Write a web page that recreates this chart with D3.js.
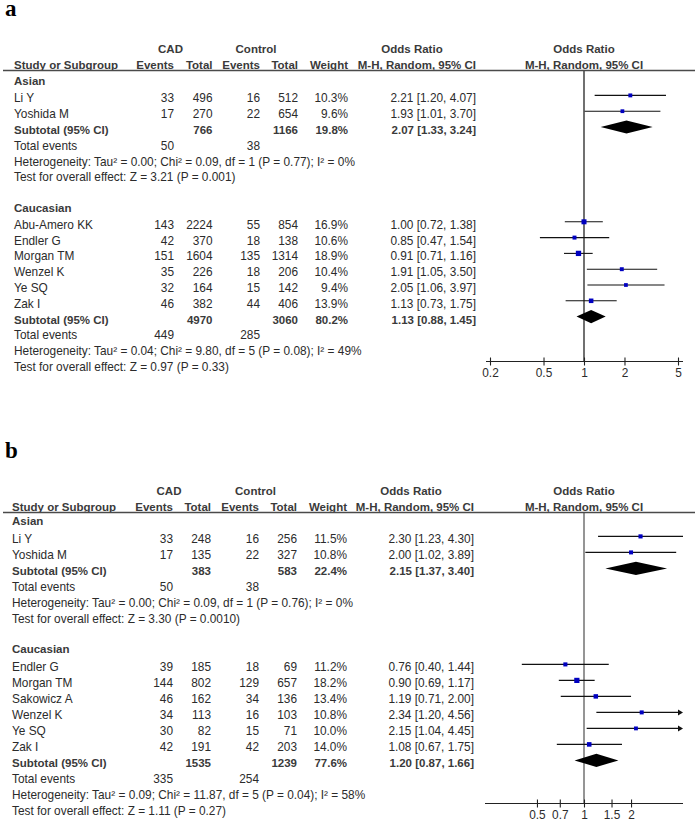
<!DOCTYPE html>
<html><head><meta charset="utf-8">
<script src="https://cdn.jsdelivr.net/npm/d3@7"></script>
<style>body{margin:0;background:#fff}svg{display:block}</style>
</head><body>
<svg id="chart" width="698" height="823"></svg>
<script>
// ---------- DATA: panel a ----------
const aStudies    = ["Li Y","Yoshida M","Abu-Amero KK","Endler G","Morgan TM","Wenzel K","Ye SQ","Zak I"];
const aGroup      = ["Asian","Asian","Caucasian","Caucasian","Caucasian","Caucasian","Caucasian","Caucasian"];
const aCadEvents  = [33,17,143,42,151,35,32,46];
const aCadTotal   = [496,270,2224,370,1604,226,164,382];
const aCtrlEvents = [16,22,55,18,135,18,15,44];
const aCtrlTotal  = [512,654,854,138,1314,206,142,406];
const aWeight     = [10.3,9.6,16.9,10.6,18.9,10.4,9.4,13.9];
const aOR         = [2.21,1.93,1.00,0.85,0.91,1.91,2.05,1.13];
const aLo         = [1.20,1.01,0.72,0.47,0.71,1.05,1.06,0.73];
const aHi         = [4.07,3.70,1.38,1.54,1.16,3.50,3.97,1.75];
const aSubgroups      = ["Asian","Caucasian"];
const aSubCadTotal    = [766,4970];
const aSubCtrlTotal   = [1166,3060];
const aSubWeight      = [19.8,80.2];
const aSubOR          = [2.07,1.13];
const aSubLo          = [1.33,0.88];
const aSubHi          = [3.24,1.45];
const aSubCadEvents   = [50,449];
const aSubCtrlEvents  = [38,285];
const aHet  = ["Heterogeneity: Tau\u00B2 = 0.00; Chi\u00B2 = 0.09, df = 1 (P = 0.77); I\u00B2 = 0%",
               "Heterogeneity: Tau\u00B2 = 0.04; Chi\u00B2 = 9.80, df = 5 (P = 0.08); I\u00B2 = 49%"];
const aTest = ["Test for overall effect: Z = 3.21 (P = 0.001)",
               "Test for overall effect: Z = 0.97 (P = 0.33)"];
const aTicks = [0.2,0.5,1,2,5];

// ---------- DATA: panel b ----------
const bStudies    = ["Li Y","Yoshida M","Endler G","Morgan TM","Sakowicz A","Wenzel K","Ye SQ","Zak I"];
const bGroup      = ["Asian","Asian","Caucasian","Caucasian","Caucasian","Caucasian","Caucasian","Caucasian"];
const bCadEvents  = [33,17,39,144,46,34,30,42];
const bCadTotal   = [248,135,185,802,162,113,82,191];
const bCtrlEvents = [16,22,18,129,34,16,15,42];
const bCtrlTotal  = [256,327,69,657,136,103,71,203];
const bWeight     = [11.5,10.8,11.2,18.2,13.4,10.8,10.0,14.0];
const bOR         = [2.30,2.00,0.76,0.90,1.19,2.34,2.15,1.08];
const bLo         = [1.23,1.02,0.40,0.69,0.71,1.20,1.04,0.67];
const bHi         = [4.30,3.89,1.44,1.17,2.00,4.56,4.45,1.75];
const bSubgroups      = ["Asian","Caucasian"];
const bSubCadTotal    = [383,1535];
const bSubCtrlTotal   = [583,1239];
const bSubWeight      = [22.4,77.6];
const bSubOR          = [2.15,1.20];
const bSubLo          = [1.37,0.87];
const bSubHi          = [3.40,1.66];
const bSubCadEvents   = [50,335];
const bSubCtrlEvents  = [38,254];
const bHet  = ["Heterogeneity: Tau\u00B2 = 0.00; Chi\u00B2 = 0.09, df = 1 (P = 0.76); I\u00B2 = 0%",
               "Heterogeneity: Tau\u00B2 = 0.09; Chi\u00B2 = 11.87, df = 5 (P = 0.04); I\u00B2 = 58%"];
const bTest = ["Test for overall effect: Z = 3.30 (P = 0.0010)",
               "Test for overall effect: Z = 1.11 (P = 0.27)"];
const bTicks = [0.5,0.7,1,1.5,2];

// ---------- DRAWING ----------
const svg = d3.select("#chart");
const FONT = "'Liberation Sans', Arial, sans-serif";
const TXT = "#2b2b2b", BOLD = "#3a3a3a", BLUE = "#0000c0";

function fmt2(v){ return v.toFixed(2); }
function ciText(o,l,h){ return fmt2(o)+" ["+fmt2(l)+", "+fmt2(h)+"]"; }

function drawPanel(cfg, d){
  const g = svg.append("g");
  // panel letter
  g.append("text").attr("x",5).attr("y",cfg.letterY).text(cfg.letter)
    .attr("font-family","'Liberation Serif','Times New Roman',serif").attr("font-weight","bold")
    .attr("font-size",23).attr("fill","#000");

  const c = cfg.cols;
  const txt = (x,y,s,anchor,bold) => g.append("text").attr("x",x).attr("y",y).text(s)
      .attr("text-anchor",anchor||"start").attr("font-family",FONT)
      .attr("font-size",bold?11.5:11.85).attr("font-weight",bold?"bold":"normal")
      .attr("fill",bold?BOLD:TXT);

  // headers
  const h1 = cfg.head1, h2 = cfg.head2;
  txt(c.cadC,h1,"CAD","middle",true);
  txt(c.ctrlC,h1,"Control","middle",true);
  txt(c.orC,h1,"Odds Ratio","middle",true);
  txt(cfg.plotC,h1,"Odds Ratio","middle",true);
  txt(c.label,h2,"Study or Subgroup","start",true);
  txt(c.ce,h2,"Events","end",true);
  txt(c.ct,h2,"Total","end",true);
  txt(c.xe,h2,"Events","end",true);
  txt(c.xt,h2,"Total","end",true);
  txt(c.w,h2,"Weight","end",true);
  txt(c.ci,h2,"M-H, Random, 95% CI","end",true);
  txt(cfg.plotC,h2,"M-H, Random, 95% CI","middle",true);

  // scale
  const x = d3.scaleLog().domain(cfg.domain).range(cfg.range);

  // rows layout
  let rows = [];
  let y = cfg.firstRow;
  d.subgroups.forEach((sg,si) => {
    rows.push({type:"group", y: y - cfg.groupGap, name: sg});
    d.studies.forEach((s,i) => { if (d.group[i]===sg){ rows.push({type:"study", y:y, i:i}); y += cfg.pitch; } });
    rows.push({type:"sub", y:y, si:si}); y += cfg.pitch;
    rows.push({type:"events", y:y, si:si}); y += cfg.pitch;
    rows.push({type:"het", y:y, si:si}); y += cfg.pitch;
    rows.push({type:"test", y:y, si:si}); y += cfg.pitch;
    y += cfg.pitch*2;   // blank row + group header row
  });

  const BL = 4.3, MK = -2.6;
  // vertical line of no effect
  g.append("line").attr("x1",x(1)).attr("x2",x(1)).attr("y1",cfg.lineY).attr("y2",cfg.axisY)
    .attr("stroke",cfg.vColor).attr("stroke-width",cfg.vWidth);

  rows.forEach(r => {
    const ty = r.y + BL, my = r.y + MK;
    if (r.type==="group"){ txt(c.label,ty,r.name,"start",true); }
    else if (r.type==="study"){
      const i = r.i;
      txt(c.label,ty,d.studies[i]);
      txt(c.ce,ty,d.cadEvents[i],"end");
      txt(c.ct,ty,d.cadTotal[i],"end");
      txt(c.xe,ty,d.ctrlEvents[i],"end");
      txt(c.xt,ty,d.ctrlTotal[i],"end");
      txt(c.w,ty,d.weight[i].toFixed(1)+"%","end");
      txt(c.ci,ty,ciText(d.or[i],d.lo[i],d.hi[i]),"end");
      const [dmin,dmax] = cfg.domain;
      const lo = Math.max(d.lo[i],dmin), hi = Math.min(d.hi[i],dmax);
      const arrowR = d.hi[i] > dmax;
      g.append("line").attr("x1",x(lo)).attr("x2",arrowR ? x(hi)-4 : x(hi)).attr("y1",my).attr("y2",my)
        .attr("stroke","#111").attr("stroke-width",1.1);
      if (arrowR){
        const xe = x(hi);
        g.append("path").attr("d",`M${xe},${my} L${xe-5},${my-3} L${xe-5},${my+3} Z`).attr("fill","#111");
      }
      const s = 1.22*Math.sqrt(d.weight[i]);
      g.append("rect").attr("x",x(d.or[i])-s/2).attr("y",my-s/2).attr("width",s).attr("height",s)
        .attr("fill",BLUE);
    }
    else if (r.type==="sub"){
      const si = r.si;
      txt(c.label,ty,"Subtotal (95% CI)","start",true);
      txt(c.ct,ty,d.subCadTotal[si],"end",true);
      txt(c.xt,ty,d.subCtrlTotal[si],"end",true);
      txt(c.w,ty,d.subWeight[si].toFixed(1)+"%","end",true);
      txt(c.ci,ty,ciText(d.subOR[si],d.subLo[si],d.subHi[si]),"end",true);
      const hh = 6.6;
      g.append("path").attr("d",
        `M${x(d.subLo[si])},${my} L${x(d.subOR[si])},${my-hh} L${x(d.subHi[si])},${my} L${x(d.subOR[si])},${my+hh} Z`)
        .attr("fill","#000");
    }
    else if (r.type==="events"){
      txt(c.label,ty,"Total events");
      txt(c.ce,ty,d.subCadEvents[r.si],"end");
      txt(c.xe,ty,d.subCtrlEvents[r.si],"end");
    }
    else if (r.type==="het"){ txt(c.label,ty,d.het[r.si]); }
    else if (r.type==="test"){ txt(c.label,ty,d.test[r.si]); }
  });

  // header rule
  g.append("line").attr("x1",3).attr("x2",695).attr("y1",cfg.lineY).attr("y2",cfg.lineY)
    .attr("stroke","#4a4a4a").attr("stroke-width",1.4);

  // axis
  const ax = g.append("g").attr("transform",`translate(0,${cfg.axisY})`)
    .call(d3.axisBottom(x).tickValues(cfg.ticks).tickFormat(v=>String(v)).tickSize(4).tickSizeOuter(0));
  ax.select(".domain").remove();
  ax.selectAll(".tick line").attr("y1",-4).attr("y2",4).attr("stroke","#222").attr("stroke-width",1.1);
  ax.selectAll(".tick text").attr("y",7).attr("dy","0.71em").attr("font-family",FONT)
    .attr("font-size",11.85).attr("fill",TXT);
  g.append("line").attr("x1",cfg.axisX[0]).attr("x2",cfg.axisX[1]).attr("y1",cfg.axisY).attr("y2",cfg.axisY)
    .attr("stroke","#222").attr("stroke-width",1.2);
}

drawPanel({
  letter:"a", letterY:16, head1:53, head2:68.5, lineY:70.5,
  cols:{label:14, cadC:170.5, ctrlC:256, orC:412, ce:174, ct:212.5, xe:260, xt:298, w:348, ci:476},
  plotC:584, firstRow:98, pitch:15.8, groupGap:17,
  domain:[0.2,5], range:[490,678], axisY:361.5, axisX:[486,683],
  vColor:"#111", vWidth:1.2, ticks:aTicks
},{
  studies:aStudies, group:aGroup, cadEvents:aCadEvents, cadTotal:aCadTotal, ctrlEvents:aCtrlEvents,
  ctrlTotal:aCtrlTotal, weight:aWeight, or:aOR, lo:aLo, hi:aHi, subgroups:aSubgroups,
  subCadTotal:aSubCadTotal, subCtrlTotal:aSubCtrlTotal, subWeight:aSubWeight, subOR:aSubOR,
  subLo:aSubLo, subHi:aSubHi, subCadEvents:aSubCadEvents, subCtrlEvents:aSubCtrlEvents, het:aHet, test:aTest
});

drawPanel({
  letter:"b", letterY:458, head1:495, head2:510.5, lineY:512.5,
  cols:{label:12, cadC:169, ctrlC:255.5, orC:411, ce:173, ct:211, xe:259, xt:297, w:347, ci:474},
  plotC:584, firstRow:539, pitch:16, groupGap:18,
  domain:[1/4.3,4.3], range:[485,683], axisY:803.5, axisX:[485,683],
  vColor:"#8a8a8a", vWidth:1.8, ticks:bTicks
},{
  studies:bStudies, group:bGroup, cadEvents:bCadEvents, cadTotal:bCadTotal, ctrlEvents:bCtrlEvents,
  ctrlTotal:bCtrlTotal, weight:bWeight, or:bOR, lo:bLo, hi:bHi, subgroups:bSubgroups,
  subCadTotal:bSubCadTotal, subCtrlTotal:bSubCtrlTotal, subWeight:bSubWeight, subOR:bSubOR,
  subLo:bSubLo, subHi:bSubHi, subCadEvents:bSubCadEvents, subCtrlEvents:bSubCtrlEvents, het:bHet, test:bTest
});
</script>
</body></html>
